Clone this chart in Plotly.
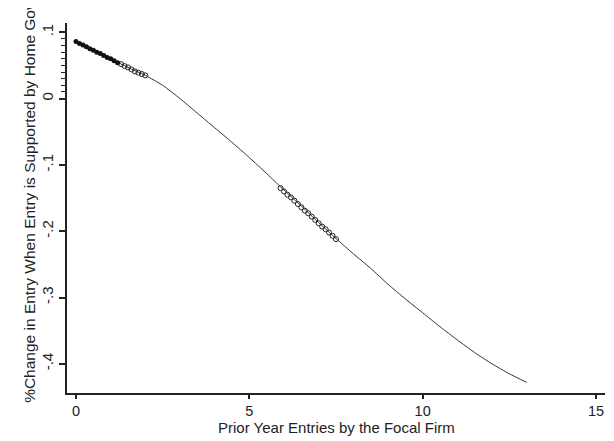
import plotly.graph_objects as go

# Fitted curve
curve_x = [0, 0.5, 1.0, 1.5, 2.0, 2.5, 3.0, 3.5, 4.0, 4.5, 5.0, 5.5, 6.0, 6.5,
           7.0, 7.5, 8.0, 8.5, 9.0, 9.5, 10.0, 10.5, 11.0, 11.5, 12.0, 12.5, 13.0]
curve_y = [0.086, 0.073, 0.060, 0.047, 0.035, 0.020, 0.000, -0.022, -0.044,
           -0.066, -0.089, -0.113, -0.138, -0.162, -0.187, -0.211, -0.234,
           -0.256, -0.280, -0.302, -0.323, -0.344, -0.364, -0.383, -0.400,
           -0.415, -0.428]

# Filled markers
filled_x = [0, 0.1, 0.2, 0.3, 0.4, 0.5, 0.6, 0.7, 0.8, 0.9, 1.0, 1.1, 1.2]
filled_y = [0.086, 0.083, 0.081, 0.078, 0.075, 0.073, 0.070, 0.068, 0.065,
            0.062, 0.060, 0.057, 0.054]

# Hollow markers
hollow1_x = [1.3, 1.4, 1.5, 1.6, 1.7, 1.8, 1.9, 2.0]
hollow1_y = [0.052, 0.049, 0.047, 0.044, 0.041, 0.039, 0.037, 0.035]
hollow2_x = [5.9, 6.0, 6.1, 6.2, 6.3, 6.4, 6.5, 6.6, 6.7, 6.8, 6.9, 7.0, 7.1,
             7.2, 7.3, 7.4, 7.5]
hollow2_y = [-0.135, -0.140, -0.145, -0.149, -0.154, -0.159, -0.164, -0.169,
             -0.173, -0.178, -0.183, -0.188, -0.193, -0.197, -0.202, -0.207,
             -0.212]

x_ticks = [0, 5, 10, 15]
y_ticks = [0.1, 0, -0.1, -0.2, -0.3, -0.4]
y_ticktext = [".1", "0", "-.1", "-.2", "-.3", "-.4"]
y_minor = [0.01, 0.02, 0.03, 0.04, 0.05, 0.06, 0.07, 0.08, 0.09]

x_title = "Prior Year Entries by the Focal Firm"
y_title = "%Change in Entry When Entry is Supported by Home Government"

FONT = "Liberation Sans, Arial, sans-serif"
TXT = "#222222"
AX = "#222222"

fig = go.Figure()
fig.add_trace(go.Scatter(x=curve_x, y=curve_y, mode="lines",
                         line=dict(color="#333333", width=1, shape="spline",
                                   smoothing=0.6),
                         hoverinfo="skip", showlegend=False))
fig.add_trace(go.Scatter(x=hollow1_x + [None] + hollow2_x,
                         y=hollow1_y + [None] + hollow2_y, mode="markers",
                         marker=dict(symbol="circle-open", size=5,
                                     color="#222222", line=dict(width=1)),
                         showlegend=False))
fig.add_trace(go.Scatter(x=filled_x, y=filled_y, mode="markers",
                         marker=dict(symbol="circle", size=5, color="#111111"),
                         showlegend=False))

# The page body adds an 8px offset; the figure is sized to fill the rest.
fig.update_layout(
    width=606, height=433,
    margin=dict(l=59, r=9, t=15, b=48),
    paper_bgcolor="white", plot_bgcolor="white",
    font=dict(family=FONT, color=TXT, size=15),
    xaxis=dict(range=[-0.26, 15.26], tickvals=x_ticks, ticks="outside",
               ticklen=4, tickwidth=1.5, tickcolor=AX, showline=True,
               linecolor=AX, linewidth=1.5, showgrid=False, zeroline=False,
               tickfont=dict(size=14.5, family=FONT, color=TXT)),
    yaxis=dict(range=[-0.444, 0.114], tickvals=y_ticks, ticktext=y_ticktext,
               tickangle=-90, ticks="outside", ticklen=6, tickwidth=1.5,
               tickcolor=AX, showline=True, linecolor=AX, linewidth=1.5,
               showgrid=False, zeroline=False,
               tickfont=dict(size=15, family=FONT, color=TXT),
               minor=dict(tickmode="array", tickvals=y_minor, ticks="outside",
                          ticklen=4, tickwidth=1, tickcolor=AX, showgrid=False)),
    annotations=[
        dict(text=x_title, xref="paper", yref="paper", x=0.5, y=-0.093,
             xanchor="center", yanchor="middle", showarrow=False,
             font=dict(size=15, family=FONT, color=TXT)),
        dict(text=y_title, xref="paper", yref="paper", x=-0.0694, y=-0.033,
             xanchor="center", yanchor="bottom", textangle=-90, showarrow=False,
             font=dict(size=15.5, family=FONT, color=TXT)),
    ],
)

fig.write_html("out.html")
